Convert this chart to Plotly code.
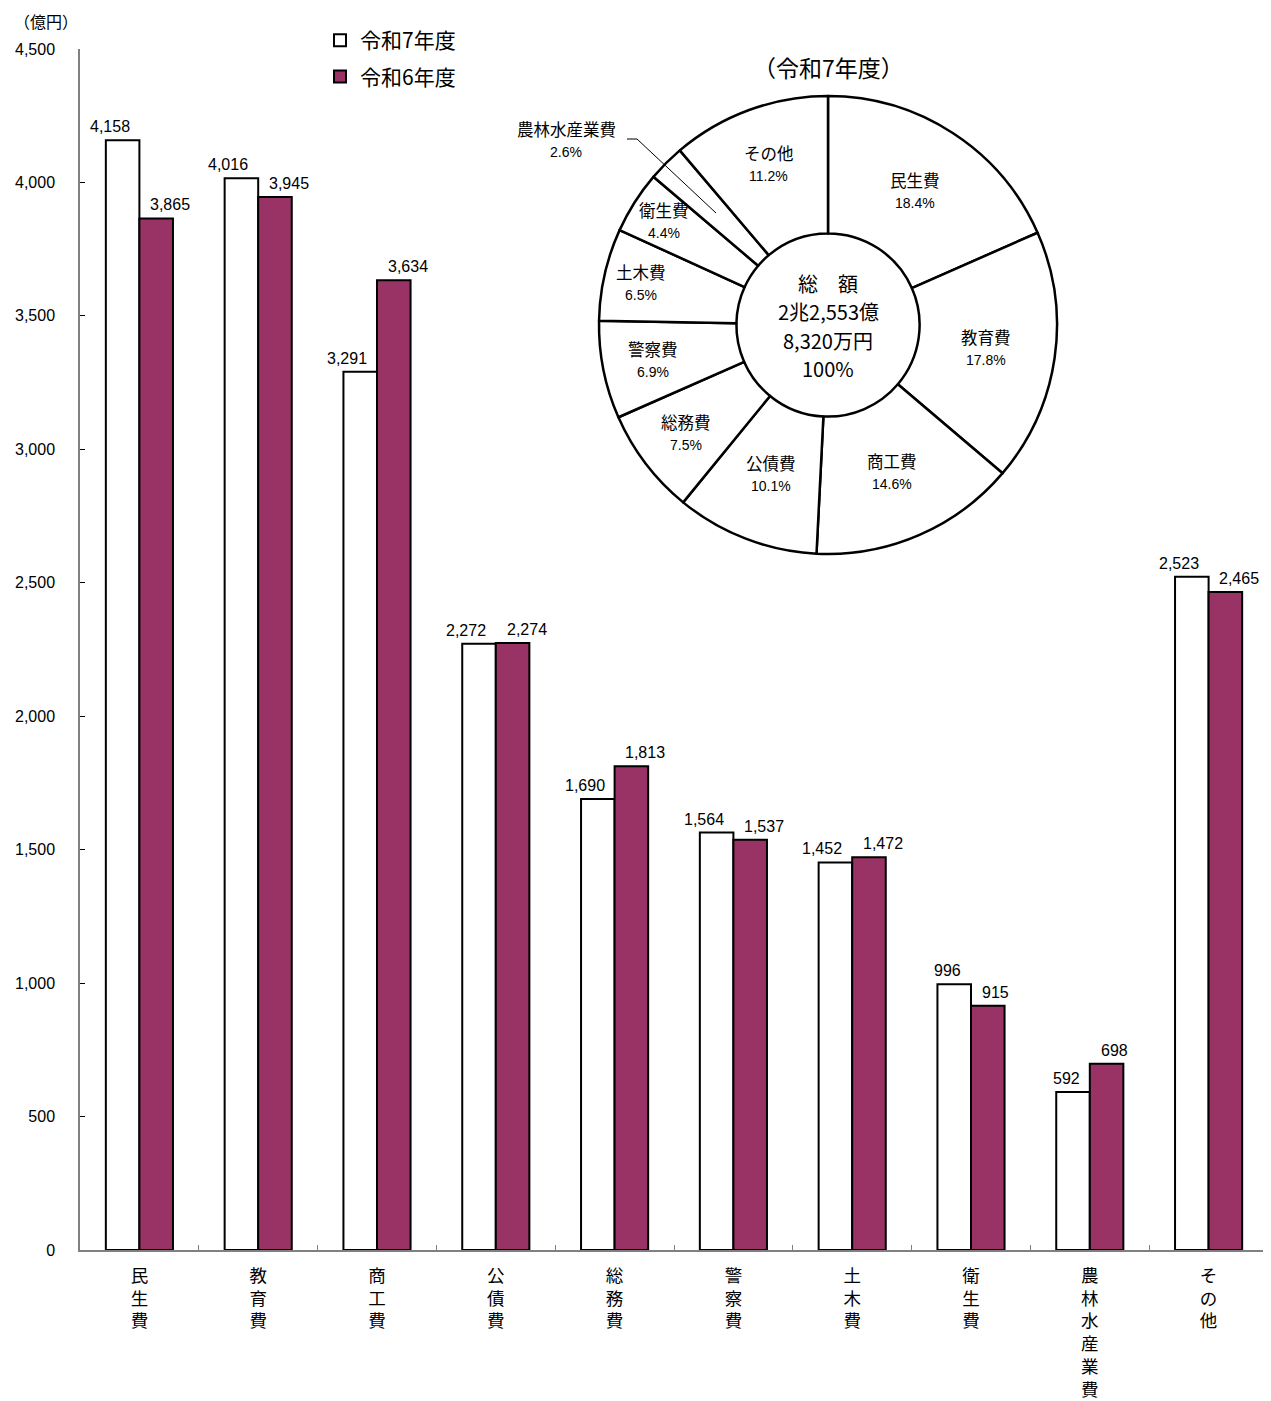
import math
import plotly.graph_objects as go

# ---------------- data ----------------
categories = ["民生費", "教育費", "商工費", "公債費", "総務費",
              "警察費", "土木費", "衛生費", "農林水産業費", "その他"]
r7_values = [4158, 4016, 3291, 2272, 1690, 1564, 1452, 996, 592, 2523]
r6_values = [3865, 3945, 3634, 2274, 1813, 1537, 1472, 915, 698, 2465]
series_names = ["令和7年度", "令和6年度"]
y_ticks = [0, 500, 1000, 1500, 2000, 2500, 3000, 3500, 4000, 4500]

pie_labels = ["民生費", "教育費", "商工費", "公債費", "総務費",
              "警察費", "土木費", "衛生費", "農林水産業費", "その他"]
pie_shares = [18.4, 17.8, 14.6, 10.1, 7.5, 6.9, 6.5, 4.4, 2.6, 11.2]
pie_title = "（令和7年度）"
center_lines = ["総　額", "2兆2,553億", "8,320万円", "100%"]
unit_label = "（億円）"

# ---------------- layout constants ----------------
OFF = 8                      # default page (body) margin of the html page
W, H = 1271 - OFF, 1401 - OFF
PLOT_L, PLOT_R, PLOT_T, PLOT_B = 80, 1268, 49, 1250   # in page pixels
ML = PLOT_L - OFF
MT = PLOT_T - OFF
MR = W - (PLOT_R - OFF)
MB = H - (PLOT_B - OFF)
PW, PH = PLOT_R - PLOT_L, PLOT_B - PLOT_T
CJK = "Noto Sans CJK JP"
NUM = "Liberation Sans"
PURPLE = "#993366"
AXIS_GRAY = "#808080"
BARGAP = 0.435


def px(x):
    return (x - PLOT_L) / PW


def py(y):
    return (PLOT_B - y) / PH


def note(x, y, text, size, family=CJK, **kw):
    d = dict(x=px(x), y=py(y), xref="paper", yref="paper", text=text, showarrow=False,
             xanchor="center", yanchor="middle",
             font=dict(family=family, size=size, color="black"))
    d.update(kw)
    return d


fig = go.Figure()
fig.add_trace(go.Bar(
    x=categories, y=r7_values, name=series_names[0], legendgroup="a",
    marker=dict(color="white", line=dict(color="black", width=2)),
    hoverinfo="skip"))
fig.add_trace(go.Bar(
    x=categories, y=r6_values, name=series_names[1], legendgroup="b",
    marker=dict(color=PURPLE, line=dict(color="black", width=2)),
    hoverinfo="skip"))

annotations = []
half = (1 - BARGAP) / 4
for i, (a, b) in enumerate(zip(r7_values, r6_values)):
    annotations.append(dict(x=i - half, y=a, xref="x", yref="y", text=f"{a:,}",
                            showarrow=False, xanchor="right", yanchor="bottom",
                            xshift=9, yshift=3, font=dict(family=NUM, size=16, color="black")))
    annotations.append(dict(x=i + half, y=b, xref="x", yref="y", text=f"{b:,}",
                            showarrow=False, xanchor="left", yanchor="bottom",
                            xshift=-8, yshift=3, font=dict(family=NUM, size=16, color="black")))

annotations.append(note(46, 21, unit_label, 16, borderpad=0))

# ---------------- pie ----------------
CX, CY, R = 828, 325, 229
HOLE = 0.40
fig.add_trace(go.Pie(
    values=pie_shares, labels=pie_labels, sort=False, direction="clockwise",
    rotation=0, hole=HOLE, textinfo="none", hoverinfo="skip", showlegend=False,
    marker=dict(colors=["white"] * len(pie_shares), line=dict(color="black", width=2.5)),
    domain=dict(x=[px(CX - R), px(CX + R)], y=[py(CY + R), py(CY - R)])))

annotations.append(note(CX, 67, pie_title, 23))

for k, line in enumerate(center_lines):
    annotations.append(note(CX, CY - 42 + 28.5 * k, line, 20))

label_radius = {"衛生費": 194, "土木費": 192, "警察費": 178, "総務費": 178, "その他": 172}
outside_labels = {"農林水産業費": (566, 140)}
shapes = []
total = sum(pie_shares)
cum = 0.0
for lab, v in zip(pie_labels, pie_shares):
    th = 2 * math.pi * (cum + v / 2) / total
    cum += v
    if lab in outside_labels:
        lx, ly = outside_labels[lab]
        rr = (R + R * HOLE) / 2 - 2
        ex, ey = CX + rr * math.sin(th), CY - rr * math.cos(th)
        shapes.append(dict(type="path", xref="paper", yref="paper",
                           path=f"M {px(lx + 61)},{py(ly - 1)} L {px(lx + 71)},{py(ly - 1)} L {px(ex)},{py(ey)}",
                           line=dict(color="black", width=1)))
    else:
        rr = label_radius.get(lab, 160)
        lx, ly = CX + rr * math.sin(th), CY - rr * math.cos(th)
    annotations.append(note(lx, ly - 11, lab, 16.5))
    annotations.append(note(lx, ly + 12, f"{v}%", 14, family=NUM))

fig.update_layout(
    width=W, height=H,
    margin=dict(l=ML, r=MR, t=MT, b=MB, autoexpand=False),
    paper_bgcolor="white", plot_bgcolor="white",
    barmode="group", bargap=BARGAP, bargroupgap=0,
    font=dict(family=CJK, size=15, color="black"),
    showlegend=True,
    legend=dict(x=px(320), y=py(20), xanchor="left", yanchor="top",
                font=dict(family=CJK, size=21, color="black"),
                tracegroupgap=6, itemwidth=30, bgcolor="rgba(0,0,0,0)",
                traceorder="grouped"),
    annotations=annotations,
    shapes=shapes,
    xaxis=dict(type="category", tickvals=categories,
               ticktext=["<br>".join(c) for c in categories],
               tickfont=dict(family=CJK, size=17.5, color="black"),
               showline=True, linecolor=AXIS_GRAY, linewidth=1.5,
               ticks="inside", tickson="boundaries", ticklen=5, tickcolor=AXIS_GRAY,
               ticklabelstandoff=9,
               showgrid=False, zeroline=False, fixedrange=True),
    yaxis=dict(range=[0, 4500], tickvals=y_ticks, tickformat=",d",
               tickfont=dict(family=NUM, size=16, color="black"),
               showline=True, linecolor=AXIS_GRAY, linewidth=1.5,
               ticks="inside", ticklen=5, tickcolor="black",
               ticklabelstandoff=20,
               showgrid=False, zeroline=False, fixedrange=True),
)

fig.write_html("out.html")
